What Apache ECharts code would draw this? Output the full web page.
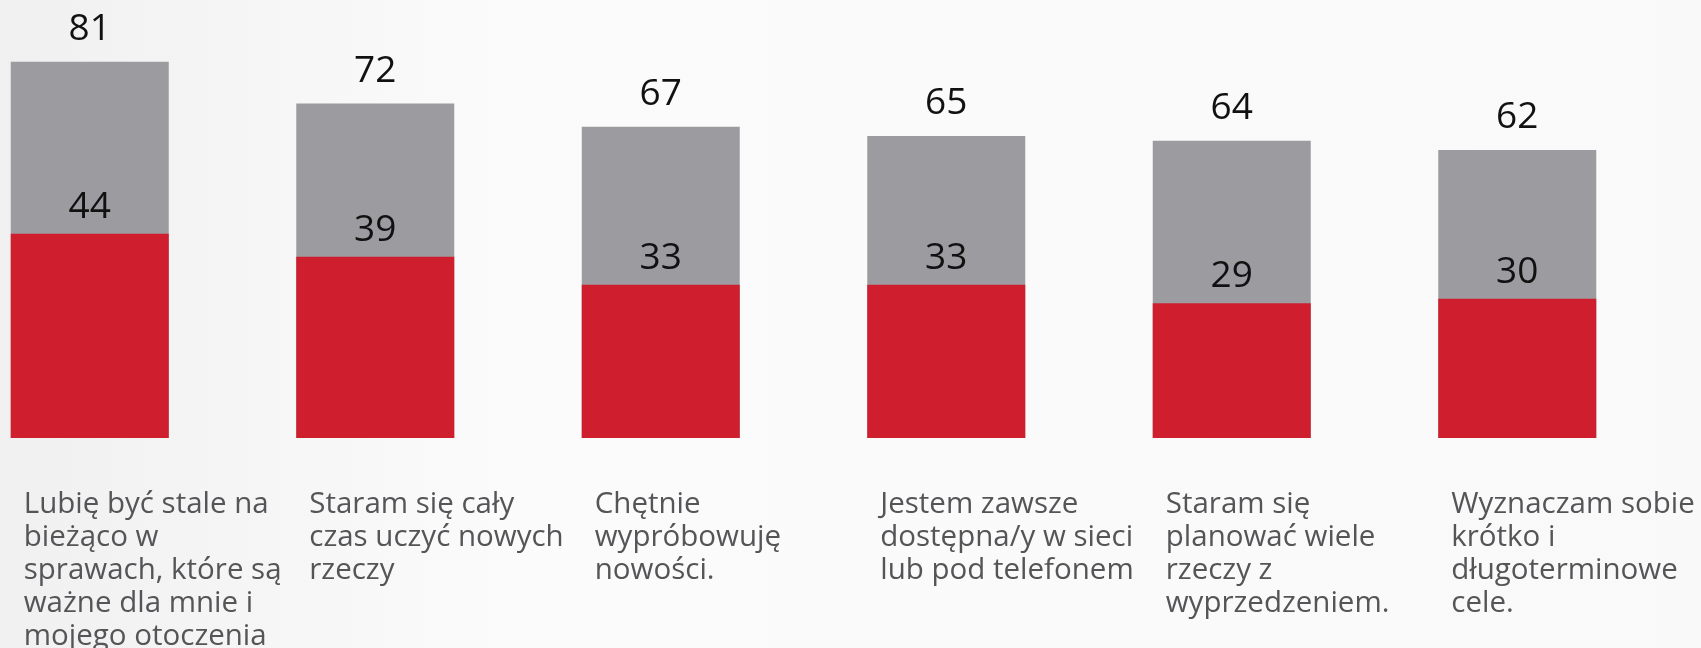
<!DOCTYPE html>
<html>
<head>
<meta charset="utf-8">
<script src="https://cdn.jsdelivr.net/npm/echarts@6/dist/echarts.min.js"></script>
<style>
html,body{margin:0;padding:0;background:#ffffff;}
#chart{width:1701px;height:648px;}
</style>
</head>
<body>
<div id="chart"></div>
<script>
var categories = [
  'Lubię być stale na\nbieżąco w\nsprawach, które są\nważne dla mnie i\nmojego otoczenia',
  'Staram się cały\nczas uczyć nowych\nrzeczy',
  'Chętnie\nwypróbowuję\nnowości.',
  'Jestem zawsze\ndostępna/y w sieci\nlub pod telefonem',
  'Staram się\nplanować wiele\nrzeczy z\nwyprzedzeniem.',
  'Wyznaczam sobie\nkrótko i\ndługoterminowe\ncele.'
];
var totalValues = [81, 72, 67, 65, 64, 62];
var redValues = [44, 39, 33, 33, 29, 30];

var chart = echarts.init(document.getElementById('chart'));
chart.setOption({
  backgroundColor: {
    type: 'linear', x: 0, y: 0, x2: 1, y2: 0,
    colorStops: [
      {offset: 0, color: '#f0f0f1'},
      {offset: 0.3, color: '#fbfbfb'},
      {offset: 1, color: '#f9f9f9'}
    ]
  },
  animation: false,
  grid: {left: -53, width: 1713, top: 20, bottom: 210, containLabel: false, outerBoundsMode: 'none'},
  xAxis: {
    type: 'category',
    data: categories,
    axisLine: {show: false},
    axisTick: {show: false},
    axisLabel: {
      interval: 0,
      margin: 50,
      width: 132,
      align: 'center',
      verticalAlign: 'top',
      formatter: function (v) {
        return v.split('\n').map(function (l) { return '{t|' + l + '}'; }).join('\n');
      },
      rich: {
        t: {
          fontFamily: 'Open Sans',
          fontSize: 29.5,
          lineHeight: 33,
          color: '#555558',
          align: 'left'
        }
      }
    }
  },
  yAxis: {
    type: 'value', min: 0, max: 90,
    show: false,
    splitLine: {show: false}
  },
  series: [
    {
      type: 'bar',
      data: totalValues,
      barWidth: 158,
      barGap: '-100%',
      itemStyle: {color: '#9c9b9f'},
      label: {
        show: true, position: 'top', distance: 14,
        fontFamily: 'Open Sans', fontSize: 37, color: '#111111'
      },
      z: 1
    },
    {
      type: 'bar',
      data: redValues,
      barWidth: 158,
      barGap: '-100%',
      itemStyle: {color: '#cf1f2e'},
      label: {
        show: true, position: 'top', distance: 8,
        fontFamily: 'Open Sans', fontSize: 37, color: '#111111'
      },
      z: 2
    }
  ]
});
</script>
</body>
</html>
